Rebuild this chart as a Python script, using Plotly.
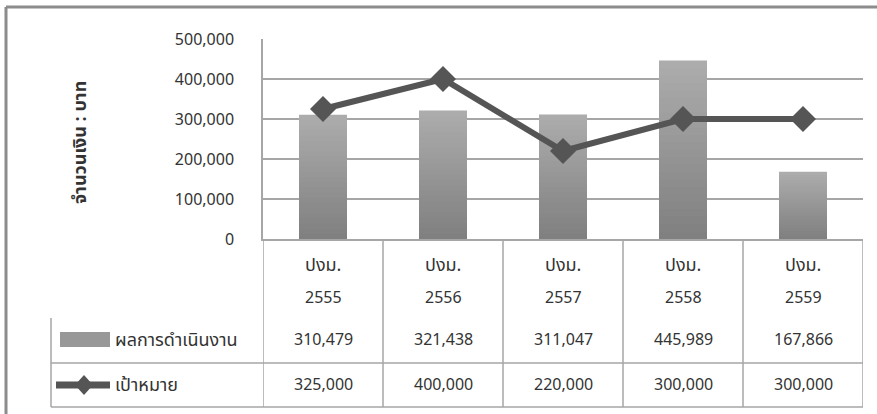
import plotly.graph_objects as go

# Fiscal years (Thai Buddhist calendar) and the two series
years = ["2555", "2556", "2557", "2558", "2559"]
year_prefix = "ปงม."
actual = [310479, 321438, 311047, 445989, 167866]
target = [325000, 400000, 220000, 300000, 300000]
actual_name = "ผลการดำเนินงาน"
target_name = "เป้าหมาย"
y_title = "จำนวนเงิน : บาท"
y_ticks = [0, 100000, 200000, 300000, 400000, 500000]

W, H = 877, 414
L, R, T, B = 263, 863, 39, 239  # plot area in pixels

FONT = "Tahoma, 'Noto Sans Thai', 'Noto Sans', 'DejaVu Sans', sans-serif"
TXT = "#333333"
GRID = "#a6a6a6"
BAR_TOP = (172, 172, 172)
BAR_BOTTOM = (128, 128, 128)
LINE = "#555555"
FS = 16      # numbers
FS_TH = 18   # Thai labels


def px(x):
    return (x - L) / (R - L)


def py(y):
    return (B - y) / (B - T)


def mix(t):
    c = [round(a + (b - a) * t) for a, b in zip(BAR_TOP, BAR_BOTTOM)]
    return f"rgb({c[0]},{c[1]},{c[2]})"


xs = list(range(len(years)))
fig = go.Figure()

# columns shaded light at the top to darker at the base (stacked overlay layers)
LAYERS = 24
for k in range(LAYERS):
    frac = 1 - k / LAYERS
    fig.add_trace(go.Bar(x=xs, y=[v * frac for v in actual], name=actual_name,
                         marker=dict(color=mix(k / (LAYERS - 1)), line=dict(width=0)),
                         width=0.4, hoverinfo="skip" if k else None))

fig.add_trace(go.Scatter(x=xs, y=target, name=target_name,
                         mode="lines+markers",
                         line=dict(color=LINE, width=6),
                         marker=dict(symbol="diamond", size=20, color=LINE)))

shapes = []
annotations = []

# outer frame (left and top edges)
shapes.append(dict(type="line", xref="paper", yref="paper", x0=px(6), x1=px(877),
                   y0=py(7), y1=py(7), line=dict(color="#8c8c8c", width=3)))
shapes.append(dict(type="line", xref="paper", yref="paper", x0=px(6), x1=px(6),
                   y0=py(7), y1=py(414), line=dict(color="#8c8c8c", width=3)))

# data table grid
n = len(years)
for i in range(n + 1):
    shapes.append(dict(type="line", xref="x", yref="paper", x0=i - 0.5, x1=i - 0.5,
                       y0=0, y1=py(407), line=dict(color=GRID, width=1.5)))
for yy in (363, 407):
    shapes.append(dict(type="line", xref="paper", yref="paper", x0=px(51), x1=1,
                       y0=py(yy), y1=py(yy), line=dict(color=GRID, width=1.5)))
shapes.append(dict(type="line", xref="paper", yref="paper", x0=px(51), x1=px(51),
                   y0=py(318), y1=py(407), line=dict(color=GRID, width=1.5)))

# legend keys inside the table
shapes.append(dict(type="rect", xref="paper", yref="paper", x0=px(60), x1=px(110),
                   y0=py(347), y1=py(332), fillcolor=mix(0.45), line=dict(width=0)))
shapes.append(dict(type="line", xref="paper", yref="paper", x0=px(56), x1=px(110),
                   y0=py(385), y1=py(385), line=dict(color=LINE, width=7)))
dx, dy = 9 / (R - L), 10 / (B - T)
cx, cy = px(84), py(385)
shapes.append(dict(type="path", xref="paper", yref="paper",
                   path=f"M {cx - dx} {cy} L {cx} {cy + dy} L {cx + dx} {cy} L {cx} {cy - dy} Z",
                   fillcolor=LINE, line=dict(width=0)))


def label(x, y, text, xref="x", xanchor="center", size=FS):
    annotations.append(dict(x=x, y=y, xref=xref, yref="paper", text=text,
                            xanchor=xanchor, yanchor="middle", showarrow=False,
                            font=dict(size=size, color=TXT)))


for i, yr in enumerate(years):
    label(i, py(265), year_prefix, size=FS_TH)
    label(i, py(298), yr)
    label(i, py(340), f"{actual[i]:,}")
    label(i, py(385), f"{target[i]:,}")

label(px(113), py(340), actual_name, xref="paper", xanchor="left", size=FS_TH)
label(px(113), py(385), target_name, xref="paper", xanchor="left", size=FS_TH)
annotations.append(dict(x=px(80), y=py(143), xref="paper", yref="paper",
                        text=f"<b>{y_title}</b>", textangle=-90,
                        xanchor="center", yanchor="middle",
                        showarrow=False, font=dict(size=18, color=TXT)))

fig.update_layout(
    width=W, height=H,
    margin=dict(l=L, r=W - R, t=T, b=H - B, pad=0),
    paper_bgcolor="white", plot_bgcolor="white",
    font=dict(family=FONT, size=FS, color=TXT),
    showlegend=False,
    barmode="overlay",
    xaxis=dict(range=[-0.5, n - 0.5], showticklabels=False, showgrid=False,
               zeroline=False, showline=True, linecolor=GRID, linewidth=1.5,
               ticks=""),
    yaxis=dict(range=[0, 500000], tickvals=y_ticks, tickformat=",d",
               showgrid=True, gridcolor=GRID, gridwidth=1.5, zeroline=False,
               showline=True, linecolor=GRID, linewidth=1.5,
               ticks="", ticklabelstandoff=24,
               tickfont=dict(size=FS, color=TXT)),
    shapes=shapes,
    annotations=annotations,
)

fig.write_html("out.html")
